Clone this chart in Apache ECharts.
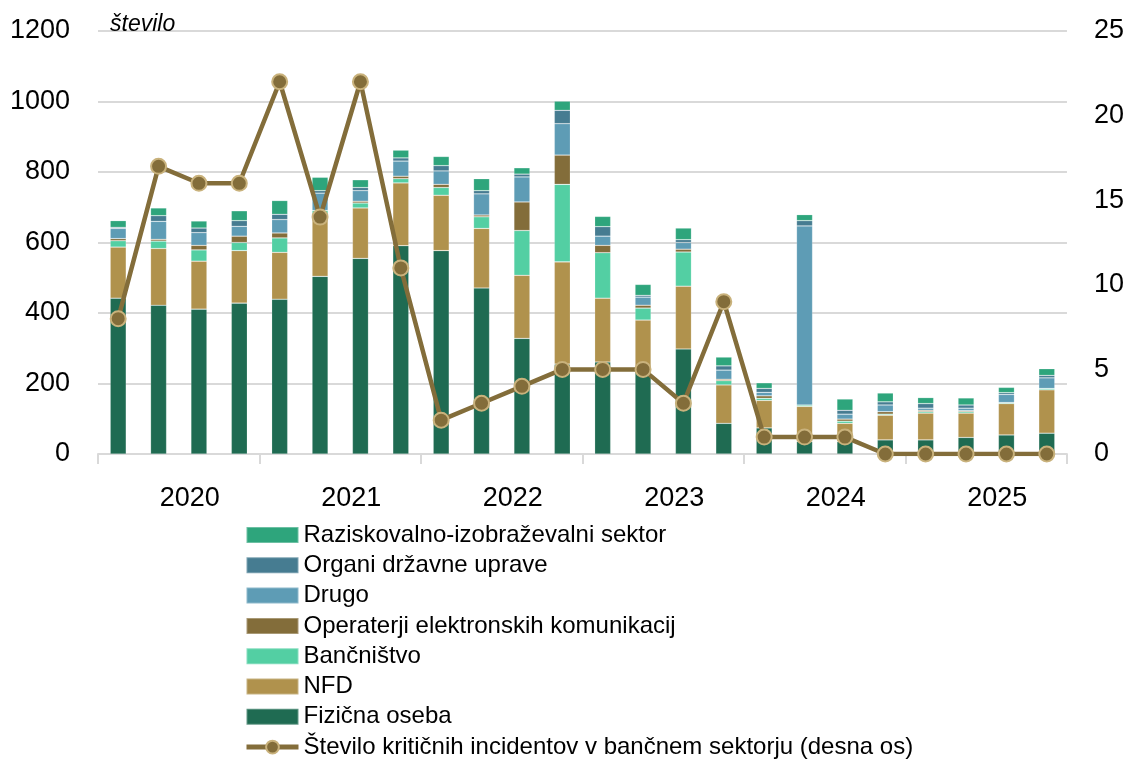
<!DOCTYPE html>
<html>
<head>
<meta charset="utf-8">
<script src="https://cdn.jsdelivr.net/npm/echarts@6/dist/echarts.min.js"></script>
<style>
    html, body { margin: 0; padding: 0; background: #fff; }
    #chart { width: 1127px; height: 762px; }
</style>
</head>
<body>
<div id="chart"></div>
<script>
// kvartali 2020 Q1 - 2025 Q4
const quarters = [
    "2020Q1", "2020Q2", "2020Q3", "2020Q4",
    "2021Q1", "2021Q2", "2021Q3", "2021Q4",
    "2022Q1", "2022Q2", "2022Q3", "2022Q4",
    "2023Q1", "2023Q2", "2023Q3", "2023Q4",
    "2024Q1", "2024Q2", "2024Q3", "2024Q4",
    "2025Q1", "2025Q2", "2025Q3", "2025Q4"
];
const years = ["2020", "2021", "2022", "2023", "2024", "2025"];

// sektorji (levo os)
const fizicnaOseba = [442, 422, 411, 428, 439, 504, 555, 591, 577, 471, 328, 255, 261, 234, 298, 87, 74, 35, 35, 40, 40, 47, 54, 59];
const nfd = [145, 161, 136, 149, 133, 175, 143, 178, 157, 169, 179, 290, 181, 146, 178, 109, 78, 100, 52, 70, 76, 69, 89, 123];
const bancnistvo = [18, 21, 32, 23, 41, 12, 14, 12, 22, 33, 127, 220, 129, 34, 97, 12, 6, 4, 6, 3, 4, 4, 3, 4];
const operaterji = [6, 5, 13, 18, 14, 0, 5, 7, 9, 5, 81, 83, 21, 8, 8, 4, 7, 0, 6, 7, 4, 3, 0, 0];
const drugo = [29, 51, 36, 28, 38, 49, 30, 43, 38, 60, 71, 89, 26, 23, 19, 26, 10, 508, 14, 19, 6, 7, 23, 30];
const organi = [3, 16, 13, 16, 15, 7, 9, 9, 15, 9, 8, 38, 27, 5, 8, 12, 11, 15, 11, 9, 13, 9, 5, 7];
const raziskovalno = [19, 22, 20, 28, 39, 38, 22, 22, 26, 34, 18, 26, 29, 31, 33, 25, 16, 17, 32, 25, 17, 20, 15, 19];

// kritični incidenti v bančnem sektorju (desna os)
const kriticni = [8, 17, 16, 16, 22, 14, 22, 11, 2, 3, 4, 5, 5, 5, 3, 9, 1, 1, 1, 0, 0, 0, 0, 0];

const leftTicks = { min: 0, max: 1200, interval: 200 };
const rightTicks = { min: 0, max: 25, interval: 5 };

const FONT = "'Liberation Sans', Arial, sans-serif";
const gridColor = "#D9D9D9";
const lineColor = "#836D3A";

const barSeries = [
    { name: "Fizična oseba", data: fizicnaOseba, color: "#1F6B52" },
    { name: "NFD", data: nfd, color: "#B0924D" },
    { name: "Bančništvo", data: bancnistvo, color: "#53CFA3" },
    { name: "Operaterji elektronskih komunikacij", data: operaterji, color: "#836D3A" },
    { name: "Drugo", data: drugo, color: "#5E9CB5" },
    { name: "Organi državne uprave", data: organi, color: "#467C91" },
    { name: "Raziskovalno-izobraževalni sektor", data: raziskovalno, color: "#2EA57C" }
].map(s => ({
    name: s.name,
    type: "bar",
    stack: "sektor",
    xAxisIndex: 0,
    yAxisIndex: 0,
    barWidth: 16,
    data: s.data,
    itemStyle: { color: s.color, borderColor: "rgba(255,255,255,0.3)", borderWidth: 0.6 }
}));

const lineName = "Število kritičnih incidentov v bančnem sektorju (desna os)";

const chart = echarts.init(document.getElementById("chart"));
chart.setOption({
    animation: false,
    textStyle: { fontFamily: FONT },
    grid: { left: 98, right: 59, top: 31, bottom: 308, containLabel: false },
    title: {
        text: "število",
        left: 105,
        top: 8,
        textStyle: { fontFamily: FONT, fontSize: 23, fontStyle: "italic", fontWeight: "normal", color: "#000" }
    },
    legend: {
        orient: "vertical",
        left: 244,
        top: 523,
        height: 260,
        padding: 0,
        itemWidth: 52,
        itemHeight: 16,
        itemGap: 6.3,
        textStyle: { fontFamily: FONT, fontSize: 24, lineHeight: 24, color: "#000" },
        data: [
            { name: "Raziskovalno-izobraževalni sektor", icon: "rect" },
            { name: "Organi državne uprave", icon: "rect" },
            { name: "Drugo", icon: "rect" },
            { name: "Operaterji elektronskih komunikacij", icon: "rect" },
            { name: "Bančništvo", icon: "rect" },
            { name: "NFD", icon: "rect" },
            { name: "Fizična oseba", icon: "rect" },
            { name: lineName, lineStyle: { width: 5, color: lineColor } }
        ]
    },
    xAxis: [
        {
            type: "category",
            data: quarters,
            axisLine: { show: false },
            axisTick: { show: false },
            axisLabel: { show: false }
        },
        {
            type: "category",
            data: years,
            position: "bottom",
            boundaryGap: true,
            axisLine: { show: true, lineStyle: { color: gridColor, width: 2 } },
            axisTick: { show: true, length: 10, interval: 0, lineStyle: { color: gridColor, width: 2 } },
            axisLabel: { margin: 31, fontSize: 27, color: "#000", interval: 0, padding: [0, 0, 0, 22] }
        }
    ],
    yAxis: [
        {
            type: "value",
            min: leftTicks.min,
            max: leftTicks.max,
            interval: leftTicks.interval,
            axisLine: { show: false },
            axisTick: { show: false },
            axisLabel: { margin: 28, fontSize: 27, color: "#000", formatter: v => String(v) },
            splitLine: { lineStyle: { color: gridColor, width: 2 } }
        },
        {
            type: "value",
            min: rightTicks.min,
            max: rightTicks.max,
            interval: rightTicks.interval,
            axisLine: { show: false },
            axisTick: { show: false },
            axisLabel: { margin: 27, fontSize: 27, color: "#000", formatter: v => String(v) },
            splitLine: { show: false }
        }
    ],
    series: [
        ...barSeries,
        {
            name: lineName,
            type: "line",
            xAxisIndex: 0,
            yAxisIndex: 1,
            data: kriticni,
            symbol: "circle",
            symbolSize: 15,
            z: 5,
            lineStyle: { color: lineColor, width: 4.5 },
            itemStyle: { color: lineColor, borderColor: "#C9B27C", borderWidth: 2 }
        }
    ]
});
</script>
</body>
</html>
